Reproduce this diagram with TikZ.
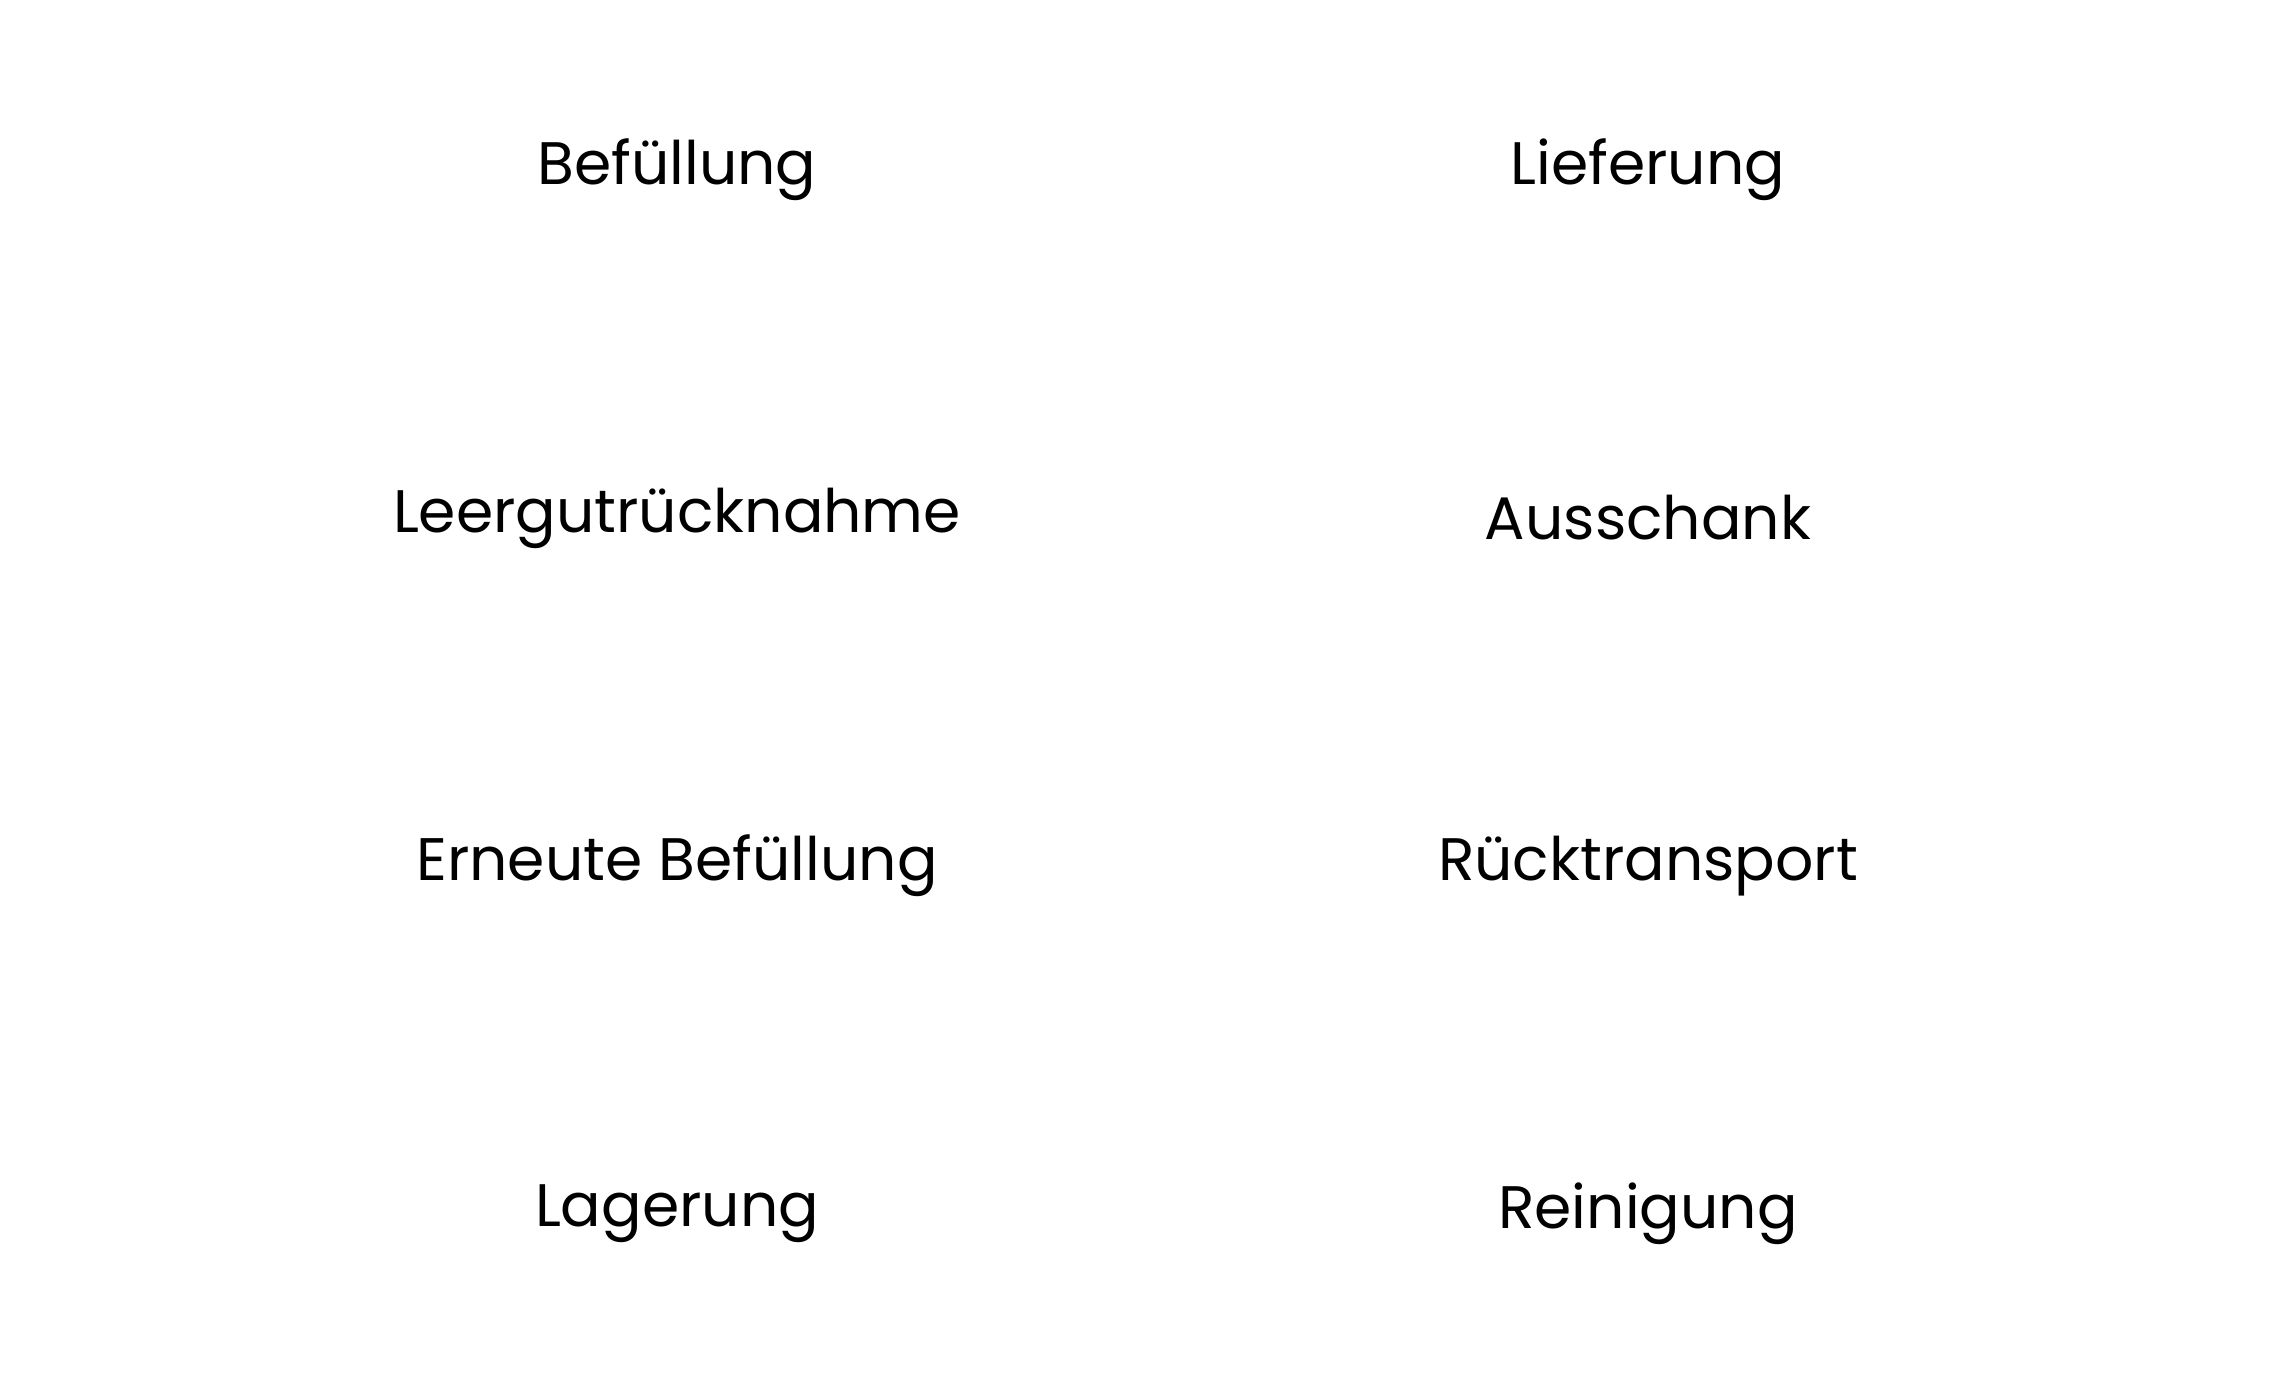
\documentclass[tikz,border=0pt]{standalone}
\usepackage{fontspec}
\setmainfont{Poppins}
\begin{document}
\begin{tikzpicture}[x=0.5pt,y=-0.5pt,lbl/.style={font=\fontsize{30}{36}\selectfont,text=black,anchor=center}]
\useasboundingbox (0,0) rectangle (2293,1374);
\node[lbl] (a) at (677,170) {Befüllung};
\node[lbl] (b) at (1648,170) {Lieferung};
\node[lbl] (c) at (677,518) {Leergutrücknahme};
\node[lbl] (d) at (1648,518) {Ausschank};
\node[lbl] (e) at (677,866) {Erneute Befüllung};
\node[lbl] (f) at (1648,866) {Rücktransport};
\node[lbl] (g) at (677,1214) {Lagerung};
\node[lbl] (h) at (1648,1214) {Reinigung};
\end{tikzpicture}
\end{document}
